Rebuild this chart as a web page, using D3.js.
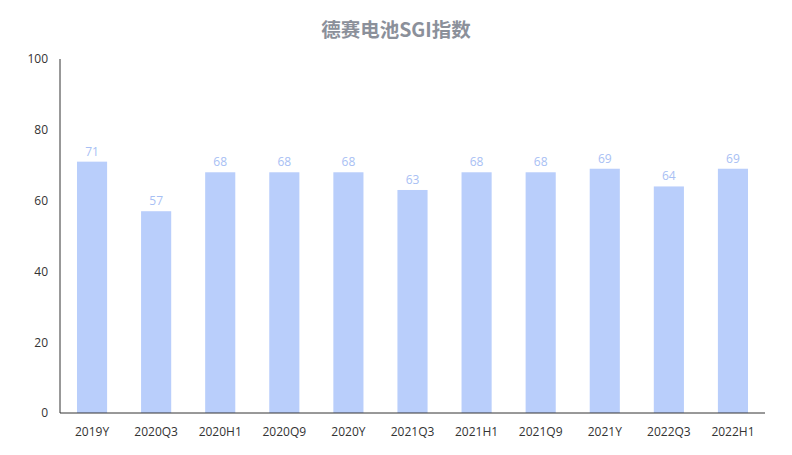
<!DOCTYPE html>
<html><head><meta charset="utf-8">
<script src="https://cdn.jsdelivr.net/npm/d3@7"></script>
<style>body{margin:0;background:#fff;font-family:"Open Sans","Noto Sans CJK SC",sans-serif}</style>
</head><body><svg id="c" width="792" height="455"></svg>
<script>
const categories=["2019Y","2020Q3","2020H1","2020Q9","2020Y","2021Q3","2021H1","2021Q9","2021Y","2022Q3","2022H1"];
const values=[71,57,68,68,68,63,68,68,69,64,69];
const yTicks=[0,20,40,60,80,100];
const svg=d3.select("#c");
const L=60,R=765,T=59,B=413;
const x=d3.scaleBand().domain(categories).range([L,R]).paddingInner(0.53).paddingOuter(0.265);
const y=d3.scaleLinear().domain([0,100]).range([B,T]);
svg.append("text").attr("x",396).attr("y",37).attr("text-anchor","middle")
 .attr("font-size",19.5).attr("font-weight","bold").attr("fill","#8b909a")
 .attr("font-family","'Noto Sans CJK SC',sans-serif").text("德赛电池SGI指数");
svg.selectAll("rect.b").data(values).join("rect").attr("class","b")
 .attr("x",(d,i)=>x(categories[i])).attr("width",x.bandwidth())
 .attr("y",d=>y(d)).attr("height",d=>B-y(d)).attr("fill","#b9cefb");
svg.selectAll("text.v").data(values).join("text").attr("class","v")
 .attr("x",(d,i)=>x(categories[i])+x.bandwidth()/2).attr("y",d=>y(d)-6)
 .attr("text-anchor","middle").attr("font-size",12).attr("fill","#a8c0f4").text(d=>d);
const ya=svg.append("g").attr("transform",`translate(${L},0)`)
 .call(d3.axisLeft(y).tickValues(yTicks).tickSize(0).tickPadding(12));
const xa=svg.append("g").attr("transform",`translate(0,${B})`)
 .call(d3.axisBottom(x).tickSize(0).tickPadding(14));
[ya,xa].forEach(a=>{a.select(".domain").attr("stroke","#333");a.selectAll("text").attr("font-size",12).attr("fill","#333").attr("font-family","'Open Sans',sans-serif");});
xa.select(".domain").attr("d",`M${L},0H${R}`);
ya.select(".domain").attr("d",`M0,${T}V${B}`);
</script></body></html>
